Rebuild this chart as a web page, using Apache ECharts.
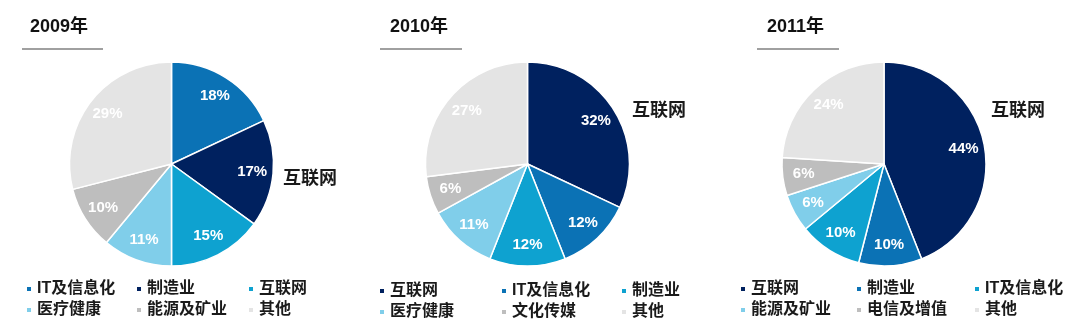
<!DOCTYPE html>
<html><head><meta charset="utf-8">
<script src="https://cdn.jsdelivr.net/npm/echarts@6/dist/echarts.min.js"></script>
<style>html,body{margin:0;padding:0;background:#fff;overflow:hidden}#wrap{display:flex;width:1080px;height:336px}.c{width:360px;height:336px}</style>
</head><body><div id="wrap"><div class="c" id="c0"></div><div class="c" id="c1"></div><div class="c" id="c2"></div></div>
<script>
const years = ['2009年', '2010年', '2011年'];
const cats2009 = ['IT及信息化', '制造业', '互联网', '医疗健康', '能源及矿业', '其他'];
const vals2009 = [18, 17, 15, 11, 10, 29];
const cats2010 = ['互联网', 'IT及信息化', '制造业', '医疗健康', '文化传媒', '其他'];
const vals2010 = [32, 12, 12, 11, 6, 27];
const cats2011 = ['互联网', '制造业', 'IT及信息化', '能源及矿业', '电信及增值', '其他'];
const vals2011 = [44, 10, 10, 6, 6, 24];
const calloutText = '互联网';

const colors2009 = ['#0B72B5', '#00215F', '#0EA2D0', '#80CEEA', '#BEBEBE', '#E4E4E4'];
const colors2010 = ['#00215F', '#0B72B5', '#0EA2D0', '#80CEEA', '#BEBEBE', '#E4E4E4'];
const colors2011 = colors2010;

const FONT = "'Liberation Sans', 'Noto Sans CJK SC', sans-serif";

const layouts = [
  {cx: 171.5, cy: 164, title: 30, line: [22, 103], call: [283, 180], cols: [25, 135, 247], rows: [289, 310]},
  {cx: 167.5, cy: 164, title: 30, line: [20, 102], call: [272, 112], cols: [18, 140, 260], rows: [291, 312]},
  {cx: 164, cy: 164, title: 47, line: [37, 119], call: [271, 112], cols: [19, 135, 253], rows: [289, 310]}
];
const cats = [cats2009, cats2010, cats2011];
const vals = [vals2009, vals2010, vals2011];
const cols = [colors2009, colors2010, colors2011];

layouts.forEach((L, i) => {
  const chart = echarts.init(document.getElementById('c' + i), null, {renderer: 'canvas'});
  const legends = cats[i].map((name, k) => ({
    data: [name], icon: 'rect', itemWidth: 6, itemHeight: 6, padding: 0,
    left: L.cols[k % 3], top: L.rows[Math.floor(k / 3)] - 9,
    selectedMode: false,
    textStyle: {fontFamily: FONT, fontSize: 16, fontWeight: 'bold', color: '#1a1a1a', lineHeight: 18}
  }));
  const R = 102;
  chart.setOption({
    animation: false,
    title: {text: years[i], left: L.title, top: 18, padding: 0,
      textStyle: {fontFamily: FONT, fontSize: 18, fontWeight: 'bold', color: '#111'}},
    legend: legends,
    graphic: [
      {type: 'line', shape: {x1: L.line[0], y1: 49, x2: L.line[1], y2: 49}, style: {stroke: '#808080', lineWidth: 1.5}, silent: true},
      {type: 'text', left: L.call[0], top: L.call[1] - 10, style: {text: calloutText, font: 'bold 18px ' + FONT, fill: '#1a1a1a'}, silent: true}
    ],
    series: [{
      type: 'pie', radius: [0, R], center: [L.cx, L.cy], startAngle: 90, clockwise: true,
      color: cols[i],
      itemStyle: {borderColor: '#fff', borderWidth: 1.5},
      emphasis: {disabled: true},
      label: {show: true, position: 'inside', formatter: '{c}%', color: '#fff',
        fontFamily: FONT, fontSize: 15, fontWeight: 'bold'},
      labelLine: {show: false},
      labelLayout: function (p) {
        const r = p.labelRect;
        const lx = r.x + r.width / 2, ly = r.y + r.height / 2;
        const dx = lx - L.cx, dy = ly - L.cy;
        const d = Math.hypot(dx, dy) || 1;
        const k = 81 / d;
        return {x: L.cx + dx * k, y: L.cy + dy * k, align: 'center', verticalAlign: 'middle'};
      },
      data: cats[i].map((n, k) => ({name: n, value: vals[i][k]}))
    }]
  });
});
</script>
</body></html>
